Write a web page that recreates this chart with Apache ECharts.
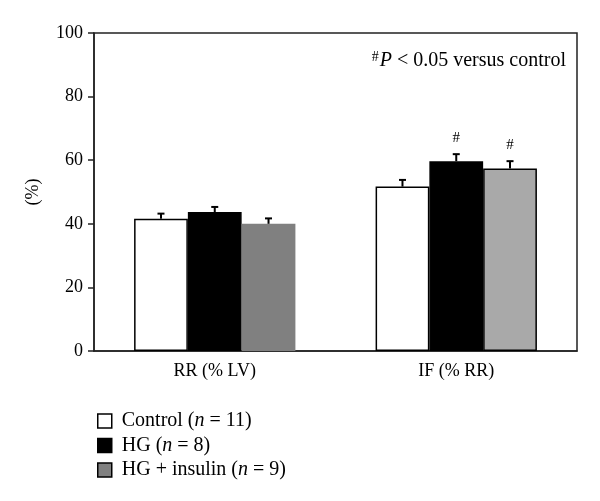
<!DOCTYPE html>
<html>
<head>
<meta charset="utf-8">
<script src="https://cdn.jsdelivr.net/npm/echarts@6/dist/echarts.min.js"></script>
<style>html,body{margin:0;padding:0;background:#fff}#c{width:600px;height:501px}</style>
</head>
<body>
<div id="c"></div>
<script>
var categories = ['RR (% LV)', 'IF (% RR)'];
var groups = ['Control', 'HG', 'HG + insulin'];
var groupN = [11, 8, 9];
var controlMean = [41.6, 51.7];
var controlErr = [1.6, 2.1];
var hgMean = [43.7, 59.7];
var hgErr = [1.6, 2.2];
var hgInsMean = [40.0, 57.4];
var hgInsErr = [1.7, 2.3];
var hgSig = [false, true];
var hgInsSig = [false, true];
var yTicks = [0, 20, 40, 60, 80, 100];

var fillColors = ['#ffffff', '#000000', '#808080'];
var hgInsIFColor = '#a9a9a9';
var gapFrac = 0.332;
var FONT = 'Liberation Serif';

var means = [controlMean, hgMean, hgInsMean];
var errs = [controlErr, hgErr, hgInsErr];
var sigs = [[false, false], hgSig, hgInsSig];

function seriesName(i) { return groups[i] + ' (n = ' + groupN[i] + ')'; }

function xOffset(api, si) {
  var band = api.size([1, 0])[0];
  var bw = band * (1 - gapFrac) / 3;
  return (si - 1) * bw;
}

function errRender(si) {
  return function (params, api) {
    var cat = api.value(0), m = api.value(1), e = api.value(2);
    var x = api.coord([cat, 0])[0] + xOffset(api, si);
    var yB = api.coord([cat, m])[1];
    var yT = api.coord([cat, m + e])[1];
    var cap = 3.5;
    return {
      type: 'group',
      children: [
        { type: 'line', shape: { x1: x, y1: yB, x2: x, y2: yT }, style: { stroke: '#000', lineWidth: 2 } },
        { type: 'line', shape: { x1: x - cap, y1: yT, x2: x + cap, y2: yT }, style: { stroke: '#000', lineWidth: 2 } }
      ]
    };
  };
}

function sigRender(si) {
  return function (params, api) {
    var cat = api.value(0), m = api.value(1), e = api.value(2), s = api.value(3);
    if (!s) return null;
    var x = api.coord([cat, 0])[0] + xOffset(api, si);
    var yT = api.coord([cat, m + e])[1];
    return {
      type: 'text',
      style: { x: x, y: yT - 16.5, text: '#', font: '15px "' + FONT + '"', fill: '#000', align: 'center', verticalAlign: 'middle' }
    };
  };
}

var series = [];
for (var si = 0; si < 3; si++) {
  var data = means[si].map(function (v, ci) {
    var item = { value: v };
    if (si === 2) {
      if (ci === 1) item.itemStyle = { color: hgInsIFColor, borderColor: '#000', borderWidth: 1.5 };
      else item.itemStyle = { borderWidth: 0 };
    }
    return item;
  });
  series.push({
    name: seriesName(si),
    type: 'bar',
    barGap: '0%',
    barCategoryGap: (gapFrac * 100) + '%',
    itemStyle: { color: fillColors[si], borderColor: '#000', borderWidth: 1.5 },
    data: data
  });
}
for (var sj = 0; sj < 3; sj++) {
  var d = categories.map(function (c, ci) { return [ci, means[sj][ci], errs[sj][ci], sigs[sj][ci] ? 1 : 0]; });
  series.push({ type: 'custom', renderItem: errRender(sj), data: d, z: 5, silent: true });
  series.push({ type: 'custom', renderItem: sigRender(sj), data: d, z: 5, silent: true });
}

var chart = echarts.init(document.getElementById('c'));
chart.setOption({
  animation: false,
  backgroundColor: '#fff',
  title: {
    text: '{s|#}{i|P}{r| < 0.05 versus control}',
    right: 29,
    top: 45,
    textStyle: {
      fontWeight: 'normal',
      rich: {
        s: { fontFamily: FONT, fontSize: 14, fontWeight: 'normal', color: '#000', verticalAlign: 'top', padding: [0, 1, 7, 0] },
        i: { fontFamily: FONT, fontSize: 20, fontWeight: 'normal', fontStyle: 'italic', color: '#000' },
        r: { fontFamily: FONT, fontSize: 20, fontWeight: 'normal', color: '#000' }
      }
    }
  },
  legend: {
    orient: 'vertical',
    left: 92,
    top: 406,
    itemWidth: 14,
    itemHeight: 14,
    itemGap: 4.5,
    icon: 'rect',
    itemStyle: { borderColor: '#000', borderWidth: 1.5 },
    data: [0, 1, 2].map(seriesName),
    formatter: function (name) {
      var idx = [0, 1, 2].filter(function (i) { return seriesName(i) === name; })[0];
      return '{r|' + groups[idx] + ' (}{i|n}{r| = ' + groupN[idx] + ')}';
    },
    textStyle: {
      padding: [0, 0, 0, 5],
      rich: {
        r: { fontFamily: FONT, fontSize: 20, lineHeight: 15, color: '#000' },
        i: { fontFamily: FONT, fontSize: 20, lineHeight: 15, fontStyle: 'italic', color: '#000' }
      }
    }
  },
  grid: {
    left: 94, right: 23, top: 33, bottom: 150,
    show: true, borderColor: '#222', borderWidth: 1.5, backgroundColor: 'transparent'
  },
  xAxis: {
    type: 'category',
    data: categories,
    axisLine: { lineStyle: { color: '#222', width: 1.5 } },
    axisTick: { show: false },
    axisLabel: { fontFamily: FONT, fontSize: 18, color: '#000', margin: 11 }
  },
  yAxis: {
    type: 'value',
    min: yTicks[0],
    max: yTicks[yTicks.length - 1],
    interval: yTicks[1] - yTicks[0],
    name: '(%)',
    nameLocation: 'middle',
    nameRotate: 90,
    nameGap: 52,
    nameTextStyle: { fontFamily: FONT, fontSize: 18, color: '#000' },
    axisLine: { show: true, lineStyle: { color: '#222', width: 1.5 } },
    axisTick: { show: true, length: 6, lineStyle: { color: '#222', width: 1.5 } },
    splitLine: { show: false },
    axisLabel: { fontFamily: FONT, fontSize: 18, color: '#000', margin: 11 }
  },
  series: series
});
</script>
</body>
</html>
